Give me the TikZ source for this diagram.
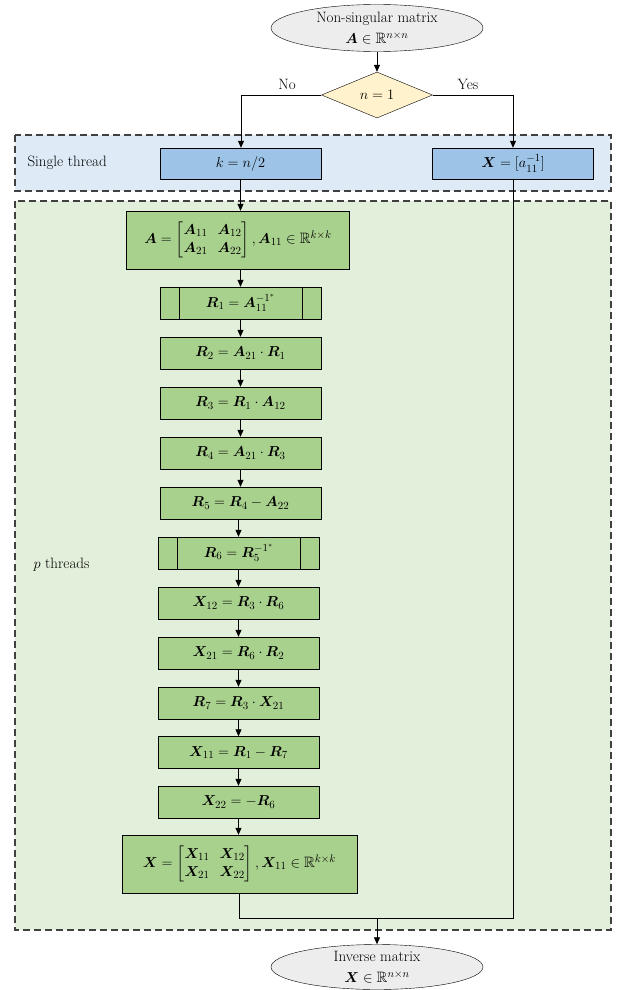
\documentclass[tikz,border=0pt]{standalone}
\usepackage{amsmath,amssymb,bm}
\usetikzlibrary{shapes.geometric,arrows.meta}
\definecolor{ellfill}{HTML}{EDEDED}
\definecolor{diafill}{HTML}{FFF2CC}
\definecolor{bluereg}{HTML}{DEEBF7}
\definecolor{bluebox}{HTML}{9DC3E6}
\definecolor{greenreg}{HTML}{E2EFDA}
\definecolor{greenbox}{HTML}{A9D18E}
\tikzset{
  base/.style={font=\fontsize{15}{18}\selectfont},
  term/.style={base,ellipse,draw,fill=ellfill,minimum width=212pt,minimum height=47pt,inner sep=0pt,align=center},
  decide/.style={base,diamond,draw,fill=diafill,minimum width=111pt,minimum height=46pt,inner sep=0pt,aspect=2.4},
  bbox/.style={base,rectangle,draw,fill=bluebox,minimum width=161pt,minimum height=31pt,inner sep=0pt},
  gbox/.style={base,rectangle,draw,fill=greenbox,minimum width=161pt,minimum height=32pt,inner sep=0pt},
  region/.style={draw=black!75,line width=1.2pt,dash pattern=on 7pt off 4pt},
  conn/.style={draw,line width=0.8pt},
  arr/.style={conn,-{Triangle[length=7pt,width=6pt]}},
  lbl/.style={base}
}
\begin{document}
\begin{tikzpicture}[x=1pt,y=-1pt]
\useasboundingbox (0,0) rectangle (616,990);
% regions
\fill[bluereg] (15,135) rectangle (611,191);
\draw[region] (15,135) rectangle (611,191);
\fill[greenreg] (15,201) rectangle (611,930);
\draw[region] (15,201) rectangle (611,930);
\node[lbl,anchor=west] (st) at (24,163) {Single thread};
\node[lbl,anchor=west] (pt) at (30,565) {$p$ threads};
% nodes
\node[term] (start) at (377,28) {Non-singular matrix\\[3pt] $\bm{A}\in\mathbb{R}^{n\times n}$};
\node[decide] (dec) at (377,95) {$n=1$};
\node[bbox] (k) at (240.5,163.5) {$k=n/2$};
\node[bbox] (x1) at (513,163.5) {$\bm{X}=[a_{11}^{-1}]$};
\node[gbox,minimum width=223pt,minimum height=58pt] (A) at (238,240) {$\bm{A}=\begin{bmatrix}\bm{A}_{11} & \bm{A}_{12}\\ \bm{A}_{21} & \bm{A}_{22}\end{bmatrix},\bm{A}_{11}\in\mathbb{R}^{k\times k}$};
\node[gbox] (r1) at (240.5,303) {$\bm{R}_1=\bm{A}_{11}^{-1^{*}}$};
\node[gbox] (r2) at (240.5,353) {$\bm{R}_2=\bm{A}_{21}\cdot\bm{R}_1$};
\node[gbox] (r3) at (240.5,403) {$\bm{R}_3=\bm{R}_1\cdot\bm{A}_{12}$};
\node[gbox] (r4) at (240.5,453) {$\bm{R}_4=\bm{A}_{21}\cdot\bm{R}_3$};
\node[gbox] (r5) at (240.5,503) {$\bm{R}_5=\bm{R}_4-\bm{A}_{22}$};
\node[gbox] (r6) at (238.5,553) {$\bm{R}_6=\bm{R}_5^{-1^{*}}$};
\node[gbox] (x12) at (238.5,603) {$\bm{X}_{12}=\bm{R}_3\cdot\bm{R}_6$};
\node[gbox] (x21) at (238.5,653) {$\bm{X}_{21}=\bm{R}_6\cdot\bm{R}_2$};
\node[gbox] (r7) at (238.5,703) {$\bm{R}_7=\bm{R}_3\cdot\bm{X}_{21}$};
\node[gbox] (x11) at (238.5,752.5) {$\bm{X}_{11}=\bm{R}_1-\bm{R}_7$};
\node[gbox] (x22) at (238.5,802) {$\bm{X}_{22}=-\bm{R}_6$};
\node[gbox,minimum width=235pt,minimum height=58pt] (X) at (239.5,864) {$\bm{X}=\begin{bmatrix}\bm{X}_{11} & \bm{X}_{12}\\ \bm{X}_{21} & \bm{X}_{22}\end{bmatrix},\bm{X}_{11}\in\mathbb{R}^{k\times k}$};
\node[term,minimum height=44pt] (end) at (377,967) {Inverse matrix\\[3pt] $\bm{X}\in\mathbb{R}^{n\times n}$};
% predefined process side bars
\foreach \n in {r1,r6}{
  \draw ([xshift=19pt]\n.north west) -- ([xshift=19pt]\n.south west);
  \draw ([xshift=-19pt]\n.north east) -- ([xshift=-19pt]\n.south east);
}
% connectors
\coordinate (nol) at (241,95);
\coordinate (yesr) at (513,95);
\coordinate (join) at (377,918);
\path[arr] (start) -- (dec);
\path[conn] (dec.west) -- (nol);
\path[arr] (nol) -- (k.north -| nol);
\path[conn] (dec.east) -- (yesr);
\path[arr] (yesr) -- (x1.north);
\node[lbl,anchor=south] (no) at (287,93) {No};
\node[lbl,anchor=south] (yes) at (468,93) {Yes};
\path[arr] (k.south) -- (A.north -| k.south);
\path[arr] (A.south -| k.south) -- (r1.north);
\path[arr] (r1) -- (r2);
\path[arr] (r2) -- (r3);
\path[arr] (r3) -- (r4);
\path[arr] (r4) -- (r5);
\path[arr] (r5.south -| r6.north) -- (r6.north);
\path[arr] (r6) -- (x12);
\path[arr] (x12) -- (x21);
\path[arr] (x21) -- (r7);
\path[arr] (r7) -- (x11);
\path[arr] (x11) -- (x22);
\path[arr] (x22.south) -- (X.north -| x22.south);
\path[conn] (X.south) |- (join);
\path[conn] (x1.south) |- (join);
\path[arr] (join) -- (end.north);
\end{tikzpicture}
\end{document}
